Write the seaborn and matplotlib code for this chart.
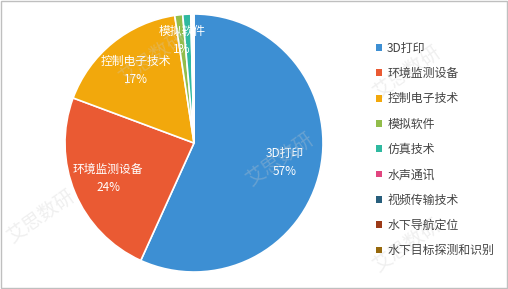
import numpy as np
import matplotlib.pyplot as plt
import matplotlib.patches as mpatches
import seaborn as sns

# data
categories = ['3D打印', '环境监测设备', '控制电子技术', '模拟软件', '仿真技术',
              '水声通讯', '视频传输技术', '水下导航定位', '水下目标探测和识别']
shares = [57.0, 24.0, 17.0, 1.0, 1.0, 0.1, 0.1, 0.1, 0.1]
colors = ['#3d8fd3', '#ea5a33', '#f2a80c', '#92bd4b', '#2fb9a0',
          '#e1457f', '#285e7c', '#9c3a17', '#96680c']
shown_labels = ['3D打印\n57%', '环境监测设备\n24%', '控制电子技术\n17%', '模拟软件\n1%']

sns.set_theme(style='white')
plt.rcParams['font.family'] = ['Noto Sans CJK SC', 'DejaVu Sans']

fig = plt.figure(figsize=(5.08, 2.89), dpi=100)
fig.patch.set_facecolor('white')

# pie axes: centre ~ (194, 143) px, radius ~ 130 px
W, H = 508, 289
cx, cy, r = 194, 143, 129
ax = fig.add_axes([(cx - r) / W, (H - cy - r) / H, 2 * r / W, 2 * r / H])

wedges, _ = ax.pie(shares, colors=colors, startangle=90, counterclock=False,
                   wedgeprops=dict(edgecolor='white', linewidth=1.2))
ax.set_xlim(-1, 1)
ax.set_ylim(-1, 1)
ax.set_aspect('equal')

for i, txt in enumerate(shown_labels):
    w = wedges[i]
    mid = np.deg2rad((w.theta1 + w.theta2) / 2)
    dist = 0.72 if shares[i] > 5 else 0.8
    ax.text(dist * np.cos(mid), dist * np.sin(mid), txt, ha='center', va='center',
            color='white', fontsize=8.5, linespacing=1.5)

# legend
handles = [mpatches.Patch(facecolor=c, edgecolor='none', label=l)
           for c, l in zip(colors, categories)]
fig.legend(handles=handles, loc='upper left', bbox_to_anchor=(371 / W, 1 - 37 / H),
           frameon=False, fontsize=8.6, handlelength=0.5, handleheight=0.5,
           handletextpad=0.45, labelspacing=1.03, borderaxespad=0,
           labelcolor='#444444')

# faint watermark
for (x, y) in [(0.08, 0.25), (0.30, 0.80), (0.55, 0.45), (0.80, 0.75), (0.80, 0.15)]:
    fig.text(x, y, '艾思数研', rotation=35, fontsize=14, color='#cccccc', alpha=0.3,
             ha='center', va='center')

# outer frame
fig.add_artist(mpatches.Rectangle((0.001, 0.002), 0.997, 0.995, transform=fig.transFigure,
                                  fill=False, edgecolor='#bfbfbf', linewidth=1))

fig.savefig('out.png', dpi=100)
